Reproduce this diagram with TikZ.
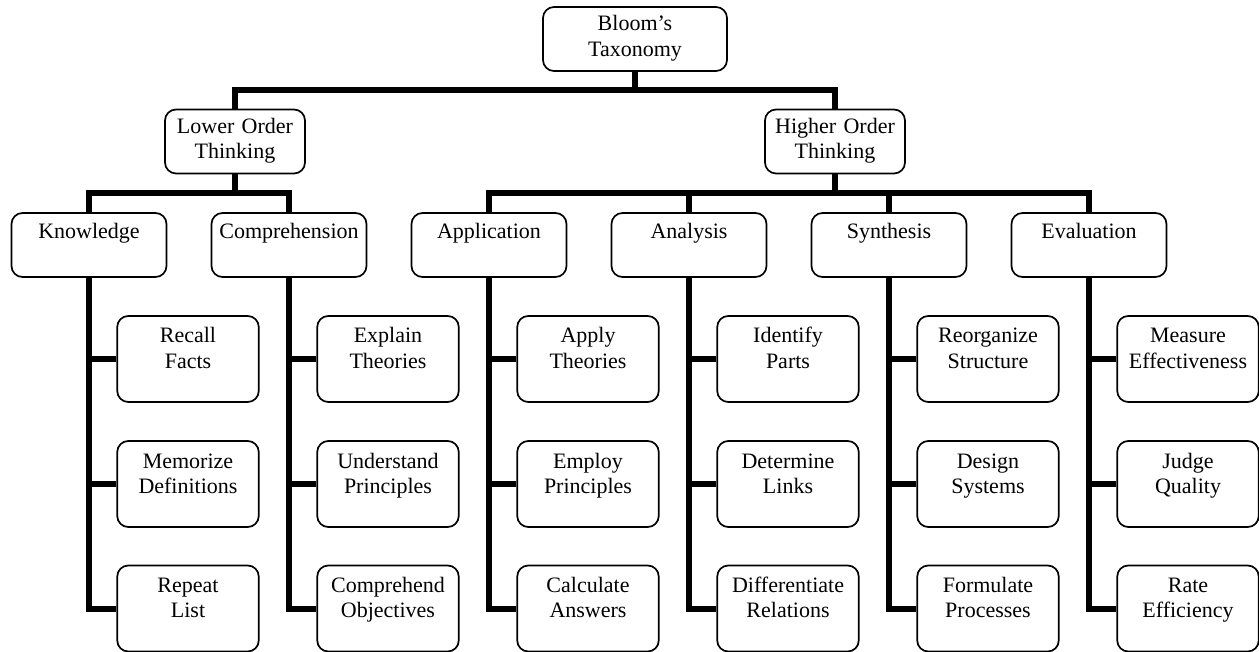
\documentclass[tikz,border=0pt]{standalone}
\usepackage{fontspec}
\setmainfont{Liberation Serif}
\usetikzlibrary{backgrounds}
\begin{document}
\begin{tikzpicture}[x=1pt,y=-1pt,
  box/.style={draw=black, line width=1.7pt, rounded corners=11pt, inner sep=0pt,
    align=center, fill=white, font=\fontsize{22}{25.3}\selectfont},
  rootbox/.style={box, minimum width=184pt, text width=178pt, minimum height=64pt, text height=24pt, text depth=40pt},
  midbox/.style={box, minimum width=140pt, text width=134pt, minimum height=64pt, text height=24pt, text depth=40pt},
  catbox/.style={box, minimum width=155pt, text width=149pt, minimum height=64pt, text height=26pt, text depth=38pt},
  leafbox/.style={box, minimum width=141.5pt, text width=136pt, minimum height=86pt, text height=27pt, text depth=59pt},
  conn/.style={line width=6pt, black, line join=miter}
]
\useasboundingbox (0,0) rectangle (1259,652);

\node[rootbox] (root) at (635,39) {Bloom’s\\Taxonomy};
\node[midbox] (lot) at (235,141.5) {Lower Order\\Thinking};
\node[midbox] (hot) at (835,141.5) {Higher Order\\Thinking};

\node[catbox] (kn) at (89,245) {Knowledge};
\node[catbox] (co) at (289,245) {Comprehension};
\node[catbox] (ap) at (489,245) {Application};
\node[catbox] (an) at (689,245) {Analysis};
\node[catbox] (sy) at (889,245) {Synthesis};
\node[catbox] (ev) at (1089,245) {Evaluation};

\node[leafbox] (kn1) at (188,359) {Recall\\Facts};
\node[leafbox] (kn2) at (188,484) {Memorize\\Definitions};
\node[leafbox] (kn3) at (188,608.5) {Repeat\\List};
\node[leafbox] (co1) at (388,359) {Explain\\Theories};
\node[leafbox] (co2) at (388,484) {Understand\\Principles};
\node[leafbox] (co3) at (388,608.5) {Comprehend\\Objectives};
\node[leafbox] (ap1) at (588,359) {Apply\\Theories};
\node[leafbox] (ap2) at (588,484) {Employ\\Principles};
\node[leafbox] (ap3) at (588,608.5) {Calculate\\Answers};
\node[leafbox] (an1) at (788,359) {Identify\\Parts};
\node[leafbox] (an2) at (788,484) {Determine\\Links};
\node[leafbox] (an3) at (788,608.5) {Differentiate\\Relations};
\node[leafbox] (sy1) at (988,359) {Reorganize\\Structure};
\node[leafbox] (sy2) at (988,484) {Design\\Systems};
\node[leafbox] (sy3) at (988,608.5) {Formulate\\Processes};
\node[leafbox] (ev1) at (1188,359) {Measure\\Effectiveness};
\node[leafbox] (ev2) at (1188,484) {Judge\\Quality};
\node[leafbox] (ev3) at (1188,608.5) {Rate\\Efficiency};

\coordinate (rootbus) at (635,90);
\coordinate (lbus) at (235,193);
\coordinate (hbus) at (835,193);

\begin{scope}[on background layer]
  \draw[conn] (root.south) -- (rootbus);
  \draw[conn] (lot.north) -- (lot.north |- rootbus) -- (hot.north |- rootbus) -- (hot.north);
  \draw[conn] (lot.south) -- (lbus);
  \draw[conn] (kn.north) -- (kn.north |- lbus) -- (co.north |- lbus) -- (co.north);
  \draw[conn] (hot.south) -- (hbus);
  \draw[conn] (ap.north) -- (ap.north |- hbus) -- (ev.north |- hbus) -- (ev.north);
  \draw[conn] (an.north) -- (an.north |- hbus);
  \draw[conn] (sy.north) -- (sy.north |- hbus);
  \foreach \c in {kn,co,ap,an,sy,ev}{
    \draw[conn] (\c.south) |- (\c3.west);
    \draw[conn] (\c1.west) -- (\c1.west -| \c.south);
    \draw[conn] (\c2.west) -- (\c2.west -| \c.south);
  }
\end{scope}
\end{tikzpicture}
\end{document}
